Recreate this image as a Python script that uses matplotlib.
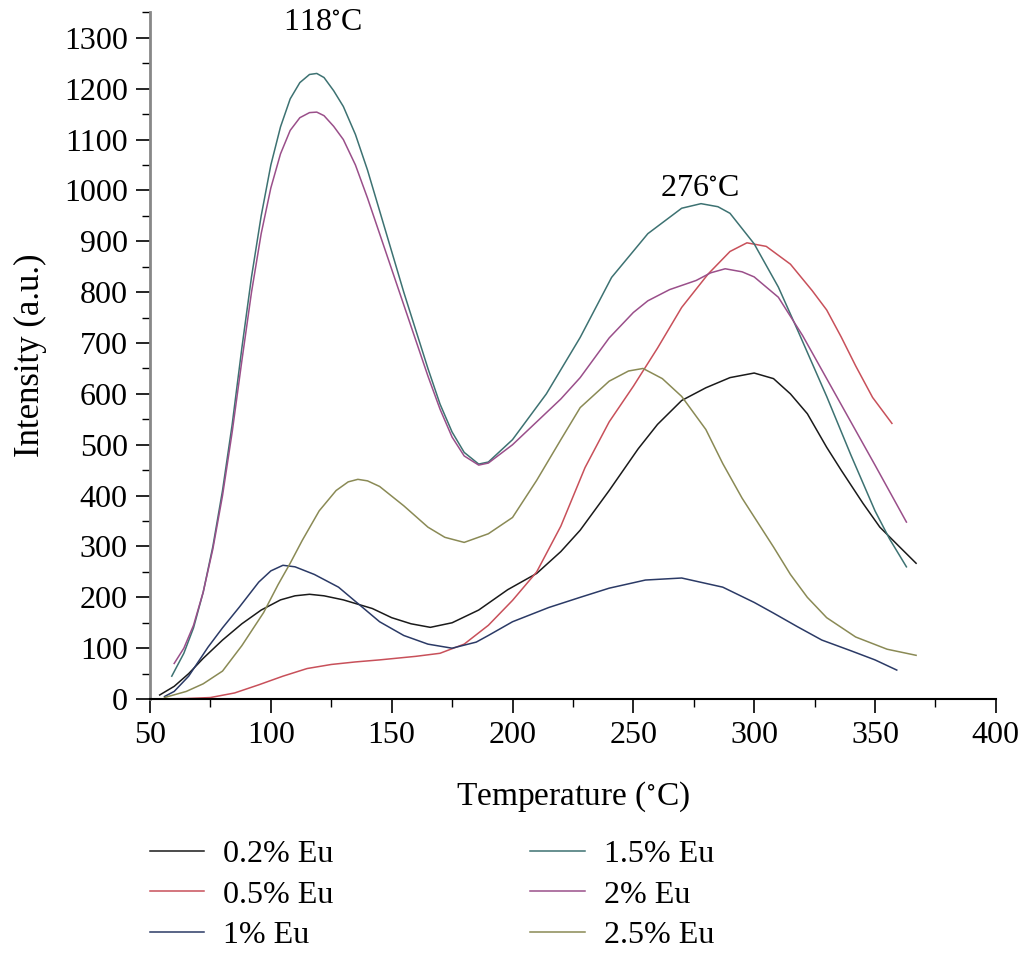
import matplotlib
matplotlib.use("Agg")
import matplotlib.pyplot as plt
from matplotlib.ticker import MultipleLocator

plt.rcParams['font.family'] = ['Liberation Serif', 'DejaVu Serif']
plt.rcParams['mathtext.fontset'] = 'stix'

# data (temperature in C, intensity in a.u.)
t_02 = [54, 60, 66, 72, 80, 88, 96, 104, 110, 116, 122, 130, 142, 150, 158, 166, 175, 186,
        198, 210, 220, 228, 240, 252, 260, 270, 280, 290, 300, 308, 315, 322, 330, 336,
        345, 352, 360, 367]
i_02 = [8, 25, 50, 80, 116, 148, 175, 195, 203, 206, 203, 195, 178, 160, 148, 141, 150, 175,
        215, 247, 290, 332, 410, 492, 540, 587, 612, 632, 641, 630, 600, 561, 495, 450,
        385, 338, 300, 267]

t_05 = [52, 65, 75, 85, 95, 105, 115, 125, 135, 145, 160, 170, 180, 190, 200, 210, 220,
        230, 240, 250, 260, 270, 281, 290, 297, 305, 315, 324, 330, 336, 342, 349, 357]
i_05 = [0, 1, 3, 12, 28, 45, 60, 68, 73, 77, 84, 90, 108, 145, 194, 250, 340,
        455, 545, 615, 690, 770, 836, 880, 897, 890, 855, 803, 765, 712, 655, 593, 542]

t_1 = [56, 60, 66, 74, 80, 87, 95, 100, 105, 110, 118, 128, 136, 145, 155, 165, 175, 185,
       190, 200, 215, 228, 240, 255, 270, 287, 300, 308, 318, 328, 340, 350, 359]
i_1 = [5, 15, 45, 102, 140, 181, 230, 252, 263, 260, 245, 220, 188, 152, 125, 108, 100, 112,
       125, 152, 180, 200, 218, 234, 238, 220, 190, 169, 142, 116, 95, 77, 57]

t_15 = [59, 64, 68, 72, 76, 80, 84, 88, 92, 96, 100, 104, 108, 112, 116, 119, 122, 126, 130,
        135, 140, 145, 150, 155, 160, 165, 170, 175, 180, 186, 190, 200, 214, 228, 241, 256,
        270, 278, 285, 290, 300, 310, 318, 330, 340, 350, 356, 363]
i_15 = [45, 90, 140, 210, 300, 410, 540, 690, 830, 950, 1050, 1125, 1180, 1212, 1228, 1230,
        1222, 1196, 1165, 1110, 1040, 960, 880, 800, 725, 650, 580, 525, 485, 462, 466, 510,
        600, 711, 829, 915, 965, 974, 968, 955, 895, 810, 725, 595, 480, 370, 315, 260]

t_2 = [60, 64, 68, 72, 76, 80, 84, 88, 92, 96, 100, 104, 108, 112, 116, 119, 122, 126, 130,
       135, 140, 145, 150, 155, 160, 165, 170, 175, 180, 186, 190, 200, 210, 220, 228, 240,
       250, 256, 265, 276, 282, 288, 295, 300, 310, 320, 330, 340, 350, 363]
i_2 = [70, 100, 145, 210, 295, 400, 525, 665, 800, 915, 1005, 1072, 1118, 1143, 1153, 1154,
       1147, 1126, 1100, 1050, 985, 915, 845, 775, 705, 635, 570, 515, 478, 460, 464, 500,
       545, 590, 632, 710, 760, 783, 805, 823, 838, 846, 840, 830, 790, 715, 630, 545, 460, 348]

t_25 = [56, 65, 72, 80, 88, 97, 103, 108, 113, 120, 127, 132, 136, 140, 145, 155, 165, 172,
        180, 190, 200, 210, 220, 228, 240, 248, 254, 262, 270, 280, 287, 295, 308, 315, 322,
        330, 342, 355, 367]
i_25 = [3, 15, 30, 55, 105, 170, 225, 267, 312, 370, 410, 427, 432, 429, 418, 380, 338, 318,
        308, 325, 357, 430, 510, 573, 625, 645, 650, 630, 595, 530, 463, 395, 299, 245, 200,
        160, 122, 98, 86]

series = [
    (t_02, i_02, '0.2% Eu', '#1a1a1a'),
    (t_05, i_05, '0.5% Eu', '#c8505a'),
    (t_1, i_1, '1% Eu', '#2b3a66'),
    (t_15, i_15, '1.5% Eu', '#3d7272'),
    (t_2, i_2, '2% Eu', '#9a4f8a'),
    (t_25, i_25, '2.5% Eu', '#8a8a55'),
]

fig = plt.figure(figsize=(10.24, 9.55), dpi=100)
ax = fig.add_axes([0.1465, 0.268, 0.826, 0.719])

for t, i, lab, col in series:
    ax.plot(t, i, color=col, lw=1.1, label=lab)

ax.set_xlim(50, 400)
ax.set_ylim(0, 1350)
ax.xaxis.set_major_locator(MultipleLocator(50))
ax.xaxis.set_minor_locator(MultipleLocator(25))
ax.yaxis.set_minor_locator(MultipleLocator(50))
ax.set_yticks(range(0, 1301, 100))

ax.spines['top'].set_visible(False)
ax.spines['right'].set_visible(False)
ax.spines['left'].set_color('#888888')
ax.spines['left'].set_linewidth(2)
ax.spines['bottom'].set_linewidth(1.5)
ax.tick_params(axis='both', which='major', labelsize=23, length=10, width=1.2, direction='out')
ax.tick_params(axis='both', which='minor', length=6, width=1.0, direction='out')
ax.tick_params(axis='x', pad=6)
ax.tick_params(axis='y', pad=6)

ax.set_xlabel(r'Temperature ($^{\circ}$C)', fontsize=24, labelpad=21)
ax.set_ylabel('Intensity (a.u.)', fontsize=25, labelpad=12)

ax.text(121.5, 1330, r'118$^{\circ}$C', fontsize=23, ha='center', va='center')
ax.text(277.5, 1004, r'276$^{\circ}$C', fontsize=23, ha='center', va='center')

fig.legend(loc='upper left', bbox_to_anchor=(150 / 1024, 1 - 840 / 955), ncol=2,
           frameon=False, fontsize=23, handlelength=1.7, handletextpad=0.6,
           columnspacing=6.15, labelspacing=0.34, borderpad=0, borderaxespad=0)

fig.savefig('out.png', dpi=100)
